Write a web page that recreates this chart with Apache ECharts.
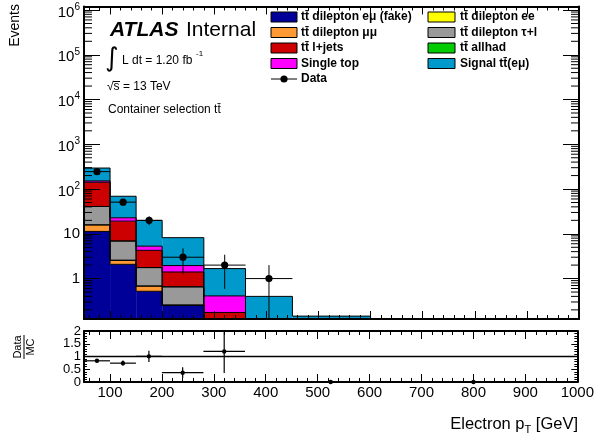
<!DOCTYPE html>
<html>
<head>
<meta charset="utf-8">
<script src="https://cdn.jsdelivr.net/npm/echarts@6/dist/echarts.min.js"></script>
<style>
html, body { margin: 0; padding: 0; background: #fff; }
#main { width: 597px; height: 439px; }
</style>
</head>
<body>
<div id="main"></div>
<script>
// bin edges of electron pT [GeV]
var binEdges = [50, 100, 150, 200, 280, 360, 450, 600, 1000];

// stacked MC contributions per bin (events)
var fakeEmu   = [11.3, 2.08, 0.52, 0.254, 0.03, 0, 0, 0];
var dilepMuMu = [4.5, 0.48, 0.16, 0, 0, 0, 0, 0];
var dilepEE   = [0, 0, 0, 0, 0, 0, 0, 0];
var dilepTauL = [25, 4.34, 1.08, 0.40, 0.03, 0, 0, 0];
var allHad    = [0, 0, 0, 0, 0, 0, 0, 0];
var lJets     = [101, 12.3, 2.51, 0.75, 0.115, 0, 0, 0];
var singleTop = [10, 3.6, 1.03, 0.55, 0.235, 0, 0, 0];
var signalEmu = [143, 46.2, 14.6, 6.25, 1.26, 0.40, 0.145, 0.02];

// observed data
var dataCounts = [245, 51, 20, 3, 2, 1, 0, 0];

var yMin = 0.125, yMax = 1.2e6;
var FONT = '"Liberation Sans", Arial, Helvetica, sans-serif';

var layers = [
    { name: 'fake', color: '#000099', values: fakeEmu },
    { name: 'mumu', color: '#ff9933', values: dilepMuMu },
    { name: 'ee', color: '#ffff00', values: dilepEE },
    { name: 'taul', color: '#999999', values: dilepTauL },
    { name: 'allhad', color: '#00cc00', values: allHad },
    { name: 'ljets', color: '#cc0000', values: lJets },
    { name: 'stop', color: '#ff00ff', values: singleTop },
    { name: 'signal', color: '#0099cc', values: signalEmu }
];

var nBins = binEdges.length - 1;
var running = [];
for (var i = 0; i < nBins; i++) running.push(0);

var series = [];

function renderLayer(params, api) {
    var x0 = api.value(0), x1 = api.value(1), lo = api.value(2), hi = api.value(3), prev = api.value(4);
    var children = [];
    var top = Math.max(hi, yMin), bot = Math.max(lo, yMin);
    var pTL = api.coord([x0, top]);
    var pBR = api.coord([x1, bot]);
    if (hi > lo && hi > yMin) {
        children.push({
            type: 'rect', z2: 0,
            shape: { x: pTL[0], y: pTL[1], width: pBR[0] - pTL[0], height: pBR[1] - pTL[1] },
            style: { fill: api.visual('color') }
        });
    }
    if (hi > yMin) {
        children.push({
            type: 'line', z2: 10,
            shape: { x1: pTL[0], y1: pTL[1], x2: pBR[0], y2: pTL[1] },
            style: { stroke: '#000', lineWidth: 1 }
        });
    }
    var pPrev = api.coord([x0, Math.max(prev, yMin)]);
    if (Math.abs(pPrev[1] - pTL[1]) > 0.5) {
        children.push({
            type: 'line', z2: 10,
            shape: { x1: pTL[0], y1: pTL[1], x2: pTL[0], y2: pPrev[1] },
            style: { stroke: '#000', lineWidth: 1 }
        });
    }
    return { type: 'group', children: children };
}

layers.forEach(function (layer) {
    var items = [];
    var prevTop = 0;
    for (var b = 0; b < nBins; b++) {
        var lo = running[b];
        var hi = lo + layer.values[b];
        items.push([binEdges[b], binEdges[b + 1], lo, hi, prevTop]);
        prevTop = hi;
        running[b] = hi;
    }
    series.push({
        name: layer.name,
        type: 'custom',
        xAxisIndex: 0, yAxisIndex: 0,
        color: layer.color,
        clip: true,
        encode: { x: [0, 1], y: [2, 3] },
        renderItem: renderLayer,
        data: items,
        z: 2
    });
});

var mcTotal = running.slice();

// data points with sqrt(N) errors
var dataItems = [];
var ratioItems = [];
for (var b = 0; b < nBins; b++) {
    var xc = (binEdges[b] + binEdges[b + 1]) / 2;
    dataItems.push([xc, dataCounts[b], binEdges[b], binEdges[b + 1]]);
    var r = dataCounts[b] / mcTotal[b];
    var re = Math.sqrt(dataCounts[b]) / mcTotal[b];
    ratioItems.push([xc, r, re, binEdges[b], binEdges[b + 1]]);
}

series.push({
    name: 'Data',
    type: 'custom',
    xAxisIndex: 0, yAxisIndex: 0,
    clip: true,
    encode: { x: [0, 2, 3], y: 1 },
    z: 5,
    renderItem: function (params, api) {
        var xc = api.value(0), n = api.value(1), x0 = api.value(2), x1 = api.value(3);
        if (!(n > 0)) return;
        var err = Math.sqrt(n);
        var p = api.coord([xc, n]);
        var pl = api.coord([x0, n]), pr = api.coord([x1, n]);
        var pu = api.coord([xc, n + err]);
        var pd = api.coord([xc, Math.max(n - err, yMin)]);
        var st = { stroke: '#000', lineWidth: 1 };
        return {
            type: 'group',
            children: [
                { type: 'line', shape: { x1: pl[0], y1: p[1], x2: pr[0], y2: p[1] }, style: st },
                { type: 'line', shape: { x1: p[0], y1: pu[1], x2: p[0], y2: pd[1] }, style: st },
                { type: 'circle', shape: { cx: p[0], cy: p[1], r: 3.6 }, style: { fill: '#000' } }
            ]
        };
    },
    data: dataItems
});

// minor log ticks (2..9 x 10^k) on both sides of the main frame
var minorLog = [];
for (var k = -1; k <= 6; k++) {
    for (var m = 2; m <= 9; m++) {
        var v = m * Math.pow(10, k);
        if (v > yMin && v < yMax) minorLog.push([v]);
    }
}
series.push({
    type: 'custom',
    xAxisIndex: 0, yAxisIndex: 0,
    silent: true,
    z: 8,
    encode: { y: 0 },
    renderItem: function (params, api) {
        var v = api.value(0);
        var pl = api.coord([50, v]);
        var pr = api.coord([1000, v]);
        var st = { stroke: '#000', lineWidth: 1 };
        return {
            type: 'group',
            children: [
                { type: 'line', shape: { x1: pl[0], y1: pl[1], x2: pl[0] + 8, y2: pl[1] }, style: st },
                { type: 'line', shape: { x1: pr[0], y1: pr[1], x2: pr[0] - 8, y2: pr[1] }, style: st }
            ]
        };
    },
    data: minorLog
});

// ratio panel
series.push({
    type: 'line',
    xAxisIndex: 2, yAxisIndex: 2,
    data: [[50, 1], [1000, 1]],
    symbol: 'none',
    lineStyle: { color: '#000', width: 1.5 },
    z: 3
});
series.push({
    name: 'Ratio',
    type: 'custom',
    xAxisIndex: 2, yAxisIndex: 2,
    clip: false,
    z: 5,
    encode: { x: [0, 3, 4], y: 1 },
    renderItem: function (params, api) {
        var xc = api.value(0), r = api.value(1), e = api.value(2), x0 = api.value(3), x1 = api.value(4);
        if (!(r <= 2)) return;
        var p = api.coord([xc, r]);
        var pl = api.coord([x0, r]), pr = api.coord([x1, r]);
        var pu = api.coord([xc, Math.min(r + e, 2)]);
        var pd = api.coord([xc, Math.max(r - e, 0)]);
        var st = { stroke: '#000', lineWidth: 1.2 };
        return {
            type: 'group',
            children: [
                { type: 'line', shape: { x1: pl[0], y1: p[1], x2: pr[0], y2: p[1] }, style: st },
                { type: 'line', shape: { x1: p[0], y1: pu[1], x2: p[0], y2: pd[1] }, style: st },
                { type: 'circle', shape: { cx: p[0], cy: p[1], r: 2.2 }, style: { fill: '#000' } }
            ]
        };
    },
    data: ratioItems
});

function xAxisCfg(grid, pos, labels) {
    return {
        gridIndex: grid, type: 'value', min: 50, max: 1000, position: pos,
        splitNumber: 10,
        axisLine: { show: true, onZero: false, lineStyle: { color: '#000', width: 2 } },
        axisTick: { show: true, inside: true, length: 8, lineStyle: { color: '#000', width: 1 } },
        minorTick: { show: true, splitNumber: 5, length: 4, lineStyle: { color: '#000', width: 1 } },
        axisLabel: {
            show: labels, color: '#000', fontSize: 15, fontFamily: FONT, margin: 3,
            showMinLabel: false, showMaxLabel: true, hideOverlap: false,
            formatter: function (v) { return v === 50 ? '' : String(v); }
        },
        splitLine: { show: false },
        z: 10
    };
}

function logLabel(v) {
    var l = Math.log10(v);
    var e = Math.round(l);
    if (Math.abs(l - e) > 1e-6 || e < 0) return '';
    if (e === 0) return '{p|1}';
    if (e === 1) return '{p|10}';
    return '{b|10}{s|' + e + '}';
}

function yLogCfg(pos, labels) {
    return {
        gridIndex: 0, type: 'log', logBase: 10, min: yMin, max: yMax, position: pos,
        splitNumber: 10,
        axisLine: { show: true, lineStyle: { color: '#000', width: 2 } },
        axisTick: { show: true, inside: true, length: 16, lineStyle: { color: '#000', width: 1 } },
        axisLabel: {
            show: labels, margin: 4, color: '#000', fontFamily: FONT,
            showMinLabel: false, showMaxLabel: true,
            formatter: logLabel,
            rich: {
                p: { fontSize: 15, fontFamily: FONT, color: '#000' },
                b: { fontSize: 15, fontFamily: FONT, color: '#000', lineHeight: 16, padding: [5, 0, 0, 0] },
                s: { fontSize: 10, fontFamily: FONT, color: '#000', lineHeight: 11, verticalAlign: 'top' }
            }
        },
        splitLine: { show: false },
        z: 10
    };
}

// ratio y axis: ticks every 0.5, labels split over two axes so none is dropped
var ratioHalfLabels = ['0.5', '1.5'];
function yRatioCfg(pos, labels) {
    return {
        gridIndex: 1, type: 'value', min: 0, max: 2, interval: 0.5, position: pos,
        axisLine: { show: true, onZero: false, lineStyle: { color: '#000', width: 2 } },
        axisTick: { show: true, inside: true, length: 6, lineStyle: { color: '#000', width: 1 } },
        minorTick: { show: true, splitNumber: 5, length: 3, lineStyle: { color: '#000', width: 1 } },
        axisLabel: {
            show: labels, margin: 3, color: '#000', fontSize: 13, fontFamily: FONT,
            formatter: function (v) {
                var s = String(v);
                return ratioHalfLabels.indexOf(s) >= 0 ? s : '';
            }
        },
        splitLine: { show: false },
        z: 10
    };
}
var yRatioWhole = {
    gridIndex: 1, type: 'value', min: 0, max: 2, interval: 1, position: 'left',
    axisLine: { show: false }, axisTick: { show: false }, splitLine: { show: false },
    axisLabel: {
        show: true, margin: 3, color: '#000', fontSize: 13, fontFamily: FONT,
        showMinLabel: true, showMaxLabel: true
    },
    z: 10
};

var txt = function (text, x, y, font, align) {
    return {
        type: 'text', silent: true,
        style: {
            text: text, x: x, y: y, font: font, fill: '#000',
            textAlign: align || 'left', align: align || 'left',
            textVerticalAlign: 'middle', verticalAlign: 'middle'
        }
    };
};

// legend layout
var legendCol1 = [['tt\u0304 dilepton e\u03bc (fake)', '#000099'], ['tt\u0304 dilepton \u03bc\u03bc', '#ff9933'],
                  ['tt\u0304 l+jets', '#cc0000'], ['Single top', '#ff00ff']];
var legendCol2 = [['tt\u0304 dilepton ee', '#ffff00'], ['tt\u0304 dilepton \u03c4+l', '#999999'],
                  ['tt\u0304 allhad', '#00cc00'], ['Signal tt\u0304(e\u03bc)', '#0099cc']];
var rowY = [17, 32.5, 48, 63.5, 79];
var legendFont = 'bold 12px ' + FONT;

var graphics = [];
legendCol1.forEach(function (it, i) {
    graphics.push({ type: 'rect', silent: true, shape: { x: 271, y: rowY[i] - 5, width: 26, height: 10 },
        style: { fill: it[1], stroke: '#000', lineWidth: 1 } });
    graphics.push(txt(it[0], 301, rowY[i], legendFont));
});
legendCol2.forEach(function (it, i) {
    graphics.push({ type: 'rect', silent: true, shape: { x: 428, y: rowY[i] - 5, width: 27, height: 10 },
        style: { fill: it[1], stroke: '#000', lineWidth: 1 } });
    graphics.push(txt(it[0], 460, rowY[i], legendFont));
});
graphics.push({ type: 'line', silent: true, shape: { x1: 271, y1: rowY[4], x2: 297, y2: rowY[4] },
    style: { stroke: '#000', lineWidth: 1 } });
graphics.push({ type: 'circle', silent: true, shape: { cx: 284, cy: rowY[4], r: 3.6 }, style: { fill: '#000' } });
graphics.push(txt('Data', 301, rowY[4], legendFont));

// ATLAS labels
graphics.push(txt('ATLAS', 110, 30, 'italic bold 21px ' + FONT));
graphics.push(txt('Internal', 186, 30, '21px ' + FONT));
graphics.push(txt('\u222b', 105, 59, '26px "DejaVu Sans"'));
graphics.push(txt('L dt = 1.20 fb', 122, 61, '12px ' + FONT));
graphics.push(txt('-1', 196, 54, '8px ' + FONT));
graphics.push(txt('\u221as = 13 TeV', 107, 87, '12px ' + FONT));
graphics.push({ type: 'line', silent: true, shape: { x1: 113, y1: 81.5, x2: 120, y2: 81.5 },
    style: { stroke: '#000', lineWidth: 1 } });
graphics.push(txt('Container selection tt\u0304', 108, 110, '12px ' + FONT));

// axis titles
graphics.push({
    type: 'text', silent: true, x: 15, y: 4, rotation: Math.PI / 2,
    style: { text: 'Events', x: 0, y: 0, font: '14px ' + FONT, fill: '#000',
        textAlign: 'right', align: 'right', textVerticalAlign: 'middle', verticalAlign: 'middle' }
});
graphics.push({
    type: 'text', silent: true,
    style: {
        text: '{a|Electron p}{s|T}{a| [GeV]}', x: 578, y: 424,
        textAlign: 'right', align: 'right', textVerticalAlign: 'middle', verticalAlign: 'middle',
        rich: {
            a: { fontSize: 16.5, fontFamily: FONT, color: '#000', lineHeight: 18 },
            s: { fontSize: 11, fontFamily: FONT, color: '#000', lineHeight: 11, padding: [12, 0, 0, 0] }
        }
    }
});
graphics.push({
    type: 'group', silent: true, x: 24, y: 347, rotation: Math.PI / 2,
    children: [
        { type: 'text', style: { text: 'Data', x: 0, y: -6, font: '11px ' + FONT, fill: '#000',
            textAlign: 'center', align: 'center', textVerticalAlign: 'middle', verticalAlign: 'middle' } },
        { type: 'line', shape: { x1: -12, y1: 0, x2: 12, y2: 0 }, style: { stroke: '#000', lineWidth: 1 } },
        { type: 'text', style: { text: 'MC', x: 0, y: 6.5, font: '11px ' + FONT, fill: '#000',
            textAlign: 'center', align: 'center', textVerticalAlign: 'middle', verticalAlign: 'middle' } }
    ]
});

var chart = echarts.init(document.getElementById('main'));
var option = {
    animation: false,
    backgroundColor: '#fff',
    textStyle: { fontFamily: FONT },
    grid: [
        { left: 84, right: 18, top: 5, height: 314 },
        { left: 84, right: 18, top: 331, height: 51 }
    ],
    xAxis: [
        xAxisCfg(0, 'bottom', false),
        xAxisCfg(0, 'top', false),
        xAxisCfg(1, 'bottom', true),
        xAxisCfg(1, 'top', false)
    ],
    yAxis: [
        yLogCfg('left', true),
        yLogCfg('right', false),
        yRatioCfg('left', true),
        yRatioCfg('right', false),
        yRatioWhole
    ],
    series: series,
    graphic: graphics
};
chart.setOption(option);
</script>
</body>
</html>
